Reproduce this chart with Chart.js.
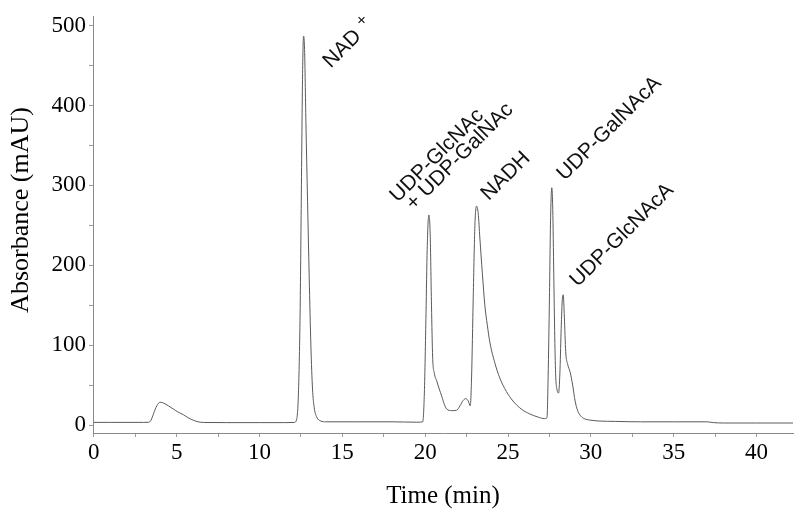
<!DOCTYPE html>
<html>
<head>
<meta charset="utf-8">
<script src="https://cdn.jsdelivr.net/npm/chart.js@4.4.1/dist/chart.umd.min.js"></script>
<style>
  html, body { margin: 0; padding: 0; background: #fff; }
  #wrap { width: 800px; height: 518px; }
</style>
</head>
<body>
<div id="wrap"><canvas id="chrom"></canvas></div>
<script>
// Chromatogram trace (time in min, absorbance in mAU)
const timeMin = [0, 1, 2, 3, 3.3, 3.45, 3.6, 3.8, 4.0, 4.2, 4.5, 4.8, 5.1, 5.4, 5.7, 6.0, 6.3, 6.6, 8, 10, 11.5,
  12.1, 12.25, 12.35, 12.45, 12.52, 12.6, 12.66, 12.72, 12.8, 12.9, 13.0, 13.1, 13.2, 13.3, 13.45, 13.7, 14.0,
  16, 18, 19.5, 19.85, 19.95, 20.05, 20.12, 20.22, 20.3, 20.38, 20.45, 20.55, 20.7, 20.85, 21.0, 21.15, 21.3,
  21.6, 21.9, 22.1, 22.3, 22.45, 22.6, 22.72, 22.8, 22.9, 23.0, 23.1, 23.2, 23.3, 23.45, 23.6, 23.75, 23.9,
  24.2, 24.5, 24.9, 25.3, 25.8, 26.3, 26.8, 27.2, 27.35, 27.42, 27.5, 27.57, 27.64, 27.7, 27.76, 27.82, 27.88,
  27.95, 28.05, 28.13, 28.2, 28.27, 28.33, 28.4, 28.48, 28.6, 28.75, 28.9, 29.05, 29.2, 29.4, 29.6, 30.0, 30.5,
  31.5, 33, 35, 37, 37.4, 38, 40, 42.2];
const absorbance = [3.3, 3.3, 3.3, 3.3, 3.4, 6, 14, 24, 28.5, 27.5, 24, 20, 16, 13, 9, 6, 4, 3.2, 3, 3, 3,
  3.2, 8, 40, 140, 280, 440, 487, 470, 380, 280, 185, 100, 45, 22, 10, 5, 4,
  4, 4, 3.5, 4, 40, 140, 220, 263, 240, 150, 85, 65, 55, 45, 36, 26, 20,
  18, 18.5, 24, 31, 33, 30, 24, 60, 160, 250, 274, 265, 234, 190, 150, 125, 104,
  78, 59, 42, 30, 20, 14, 10, 8, 9, 60, 160, 260, 297, 270, 190, 110, 60,
  45, 40, 65, 115, 155, 163, 135, 92, 76, 66, 50, 30, 18, 11, 8, 6, 5,
  4.5, 4, 4, 4, 3, 2.5, 2.5, 2.5];

// Peak annotations: text, anchor time, anchor absorbance (start of the rotated text)
const peakNames = ['NAD', 'UDP-GlcNAc', '+ UDP-GalNAc', 'NADH', 'UDP-GalNAcA', 'UDP-GlcNAcA'];
const peakTimes = [14.3, 18.34, 19.31, 23.84, 28.42, 29.21];
const peakLevels = [446, 278, 268, 280, 305, 172];

const xTickStep = 2.5;
const yTickStep = 50;

const serif = '"Liberation Serif", "Times New Roman", serif';
const sans = '"Liberation Sans", Arial, sans-serif';

const points = timeMin.map((t, i) => ({ x: t, y: absorbance[i] }));

const peakLabels = {
  id: 'peakLabels',
  afterDatasetsDraw(chart) {
    const ctx = chart.ctx;
    const xs = chart.scales.x, ys = chart.scales.y;
    ctx.save();
    ctx.fillStyle = '#111';
    ctx.textBaseline = 'alphabetic';
    peakNames.forEach((name, i) => {
      const px = xs.getPixelForValue(peakTimes[i]);
      const py = ys.getPixelForValue(peakLevels[i]);
      ctx.save();
      ctx.translate(px, py);
      ctx.rotate(-Math.PI / 4);
      ctx.font = '21px ' + sans;
      ctx.fillText(name, 0, 0);
      if (name === 'NAD') {
        // superscript plus
        const w = ctx.measureText(name).width;
        ctx.font = '17px ' + sans;
        ctx.fillText('+', w + 7, -7);
      }
      ctx.restore();
    });
    // y axis title
    ctx.save();
    ctx.fillStyle = '#000';
    ctx.font = '26px ' + serif;
    ctx.textAlign = 'center';
    ctx.textBaseline = 'middle';
    ctx.translate(21, 210);
    ctx.rotate(-Math.PI / 2);
    ctx.fillText('Absorbance (mAU)', 0, 0);
    ctx.restore();
    ctx.restore();
  }
};

new Chart(document.getElementById('chrom'), {
  type: 'line',
  data: {
    datasets: [{
      data: points,
      borderColor: '#5a5a5a',
      borderWidth: 1,
      pointRadius: 0,
      fill: false,
      cubicInterpolationMode: 'monotone'
    }]
  },
  options: {
    responsive: true,
    maintainAspectRatio: false,
    animation: false,
    layout: { padding: { top: 7, right: 7, left: 0, bottom: 0 } },
    plugins: {
      legend: { display: false },
      tooltip: { enabled: false }
    },
    scales: {
      x: {
        type: 'linear',
        min: -0.05,
        max: 42.2,
        border: { color: '#8a8a8a', width: 1 },
        grid: { drawOnChartArea: false, drawTicks: true, tickLength: 4, color: '#9a9a9a' },
        ticks: {
          stepSize: xTickStep,
          includeBounds: false,
          autoSkip: false,
          maxRotation: 0,
          padding: 2,
          color: '#000',
          font: { family: serif, size: 23 },
          callback: (v) => (v % 5 === 0 ? String(v) : '')
        },
        title: {
          display: true,
          text: 'Time (min)',
          color: '#000',
          font: { family: serif, size: 25 },
          padding: { top: 0, bottom: 7 }
        },
        afterFit: (scale) => { scale.height = 85; }
      },
      y: {
        type: 'linear',
        min: -10,
        max: 511,
        border: { color: '#8a8a8a', width: 1 },
        grid: { drawOnChartArea: false, drawTicks: true, tickLength: 4, color: '#9a9a9a' },
        ticks: {
          stepSize: yTickStep,
          includeBounds: false,
          autoSkip: false,
          padding: 3,
          color: '#000',
          font: { family: serif, size: 23 },
          callback: (v) => (v % 100 === 0 ? String(v) : '')
        },
        title: { display: false },
        afterFit: (scale) => { scale.width = 93; }
      }
    }
  },
  plugins: [peakLabels]
});
</script>
</body>
</html>
